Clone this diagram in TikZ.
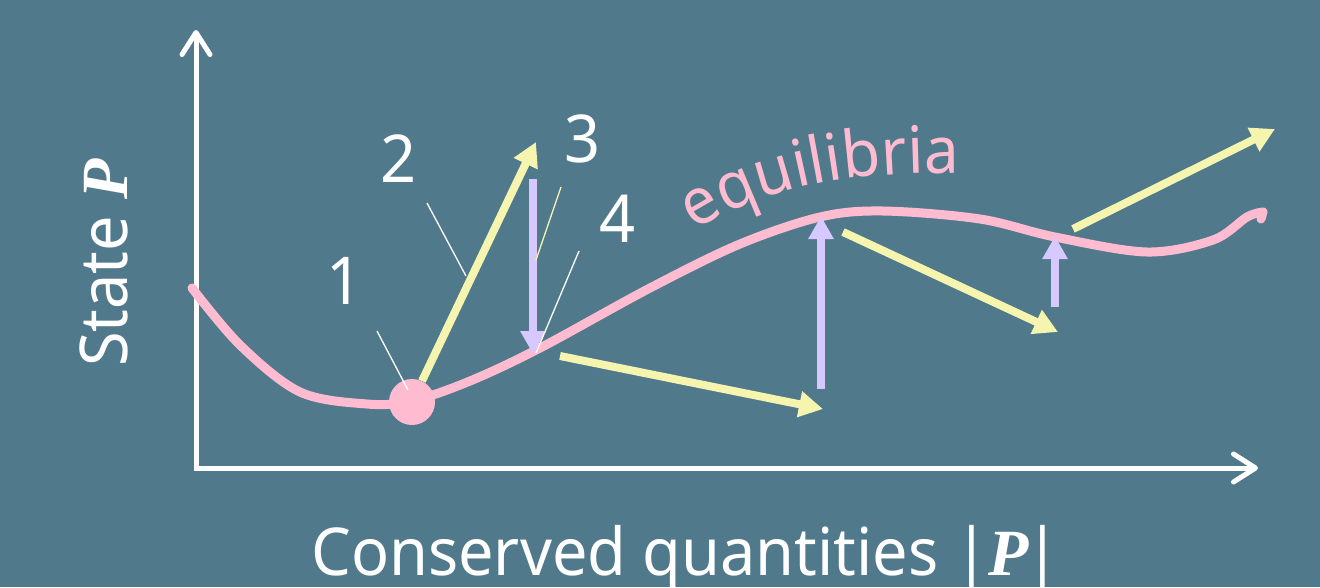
\documentclass[tikz,border=0pt]{standalone}
\usepackage{fontspec}
\setmainfont{Noto Sans}[FakeStretch=0.955]
\newfontfamily\pfont{Liberation Serif}
\usetikzlibrary{arrows.meta,decorations.text}
\definecolor{bgc}{RGB}{81,121,140}
\definecolor{pinkc}{RGB}{255,187,208}
\definecolor{ycol}{RGB}{245,245,175}
\definecolor{pcol}{RGB}{215,200,255}
\newcommand{\bigP}{{\pfont\bfseries\itshape P}}
\tikzset{
  axisline/.style={line width=5pt, white, line join=miter,
    {Straight Barb[length=22pt,width=28pt,line cap=round,line join=round]}-{Straight Barb[length=22pt,width=28pt,line cap=round,line join=round]}},
  yarrow/.style={line width=8pt, ycol, -{Triangle[length=24pt,width=25pt]}},
  parrow/.style={line width=8pt, pcol, -{Triangle[length=23pt,width=24pt]}},
  leader/.style={line width=1.3pt, white},
  yleader/.style={line width=1.3pt, ycol},
  lbl/.style={text=white, font=\fontsize{66}{66}\selectfont, inner sep=0pt, anchor=base},
  eqcurve/.style={line width=9pt, pinkc, line cap=round, line join=round},
}
\begin{document}
\begin{tikzpicture}[x=1pt,y=-1pt]
\useasboundingbox (0,0) rectangle (1320,587);
\fill[bgc] (0,0) rectangle (1320,587);

% axes
\coordinate (ytop) at (196,30);
\coordinate (orig) at (196,468);
\coordinate (xend) at (1258,468);
\draw[axisline] (ytop) -- (orig) -- (xend);

% equilibrium curve
\draw[eqcurve] plot[smooth, tension=0.55] coordinates {
  (192,288) (240,345) (300,392) (367,404) (412,401) (470,381) (540,348)
  (650,288) (740,244) (820,217) (883,211) (980,219) (1055,237) (1147,252)
  (1213,240) (1247,217) (1263,212)};
\draw[eqcurve] (1263,212) -- (1261,219);

\node[circle, fill=pinkc, minimum size=46pt, inner sep=0pt] (dot) at (412,402) {};

% equilibria label
\path[decorate, decoration={text along path, text align=left,
  text={|\fontsize{65}{65}\selectfont\color{pinkc}|equilibria}}]
  (695,231) .. controls (760,188) and (850,168) .. (995,174);

% yellow arrows
\coordinate (y1s) at (422,381); \coordinate (y1e) at (536,142);
\coordinate (y2s) at (560,356); \coordinate (y2e) at (823,409);
\coordinate (y3s) at (843,232); \coordinate (y3e) at (1058,332);
\coordinate (y4s) at (1073,229); \coordinate (y4e) at (1275,129);
\draw[yarrow] (y1s) -- (y1e);
\draw[yarrow] (y2s) -- (y2e);
\draw[yarrow] (y3s) -- (y3e);
\draw[yarrow] (y4s) -- (y4e);

% purple arrows
\coordinate (p1s) at (533,179); \coordinate (p1e) at (533,354);
\coordinate (p2s) at (821,389); \coordinate (p2e) at (821,216);
\coordinate (p3s) at (1055,307); \coordinate (p3e) at (1055,236);
\draw[parrow] (p1s) -- (p1e);
\draw[parrow] (p2s) -- (p2e);
\draw[parrow] (p3s) -- (p3e);

% labels
\node[lbl] (l1) at (345,304) {1};
\node[lbl] (l2) at (399,182) {2};
\node[lbl] (l3) at (583,162) {3};
\node[lbl] (l4) at (618,242) {4};

% leaders
\coordinate (a1) at (377,331); \coordinate (b1) at (408,390);
\coordinate (a2) at (427,203); \coordinate (b2) at (466,276);
\coordinate (a3) at (561,187); \coordinate (b3) at (536,260);
\coordinate (a4) at (579,251); \coordinate (b4) at (536,353);
\draw[leader] (a1) -- (b1);
\draw[leader] (a2) -- (b2);
\draw[yleader] (a3) -- (b3);
\draw[leader] (a4) -- (b4);

% axis titles
\node[lbl, rotate=90] (ylab) at (127,263) {State \bigP};
\node[lbl] (xlab) at (686,575) {Conserved quantities |\kern-1pt\bigP\kern-3pt|};
\end{tikzpicture}
\end{document}
